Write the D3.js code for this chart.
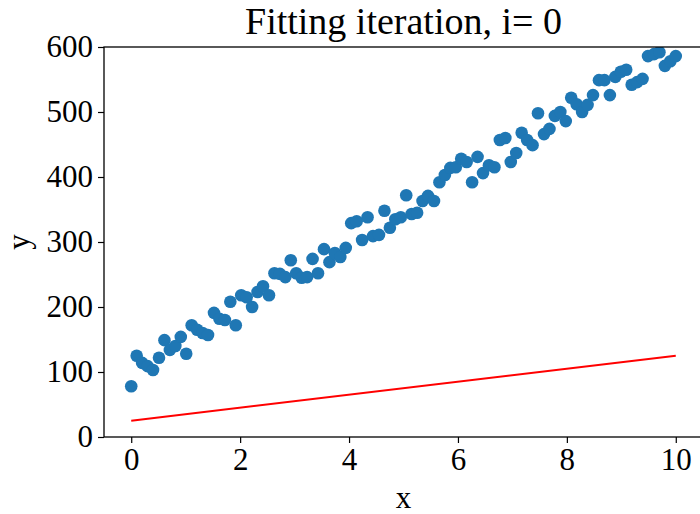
<!DOCTYPE html>
<html>
<head>
<meta charset="utf-8">
<script src="https://cdn.jsdelivr.net/npm/d3@7"></script>
<style>
  html, body { margin: 0; padding: 0; background: #fff; }
  svg { display: block; }
  text { font-family: "Liberation Serif", "DejaVu Serif", serif; fill: #000; }
</style>
</head>
<body>
<svg id="chart" width="700" height="514"></svg>
<script>
const titleText = "Fitting iteration, i= 0";
const xLabel = "x";
const yLabel = "y";
const xTicks = [0, 2, 4, 6, 8, 10];
const yTicks = [0, 100, 200, 300, 400, 500, 600];

const xValues = [
  0.00,0.10,0.20,0.30,0.40,0.51,0.61,0.71,0.81,0.91,
  1.01,1.11,1.21,1.31,1.41,1.52,1.62,1.72,1.82,1.92,
  2.02,2.12,2.22,2.32,2.42,2.53,2.63,2.73,2.83,2.93,
  3.03,3.13,3.23,3.33,3.43,3.54,3.64,3.74,3.84,3.94,
  4.04,4.14,4.24,4.34,4.44,4.55,4.65,4.75,4.85,4.95,
  5.05,5.15,5.25,5.35,5.45,5.56,5.66,5.76,5.86,5.96,
  6.06,6.16,6.26,6.36,6.46,6.57,6.67,6.77,6.87,6.97,
  7.07,7.17,7.27,7.37,7.47,7.58,7.68,7.78,7.88,7.98,
  8.08,8.18,8.28,8.38,8.48,8.59,8.69,8.79,8.89,8.99,
  9.09,9.19,9.29,9.39,9.49,9.60,9.70,9.80,9.90,10.00
];
const yValues = [
  78,125,114,109,103,122,149,134,140,154,
  128,172,165,160,157,191,182,180,208,172,
  218,215,200,223,232,218,252,251,246,272,
  252,245,246,274,252,289,269,283,277,291,
  329,332,303,338,309,311,348,322,335,338,
  372,343,345,363,371,363,392,403,414,415,
  428,423,392,431,406,418,415,457,460,423,
  437,468,457,449,498,466,474,494,500,486,
  522,512,500,511,526,549,549,526,554,562,
  565,542,546,551,586,589,592,571,578,586
];
const lineX = [0, 10];
const lineY = [25, 125];

const svg = d3.select("#chart");
const pLeft = 104, pRight = 703, pTop = 47, pBottom = 437;

const x = d3.scaleLinear().domain([-0.5, 10.5]).range([pLeft, pRight]);
const y = d3.scaleLinear().domain([0, 600]).range([pBottom, pTop]);

svg.append("defs").append("clipPath").attr("id", "clip")
  .append("rect").attr("x", pLeft).attr("y", pTop)
  .attr("width", pRight - pLeft).attr("height", pBottom - pTop);

const plot = svg.append("g").attr("clip-path", "url(#clip)");

plot.selectAll("circle.pt")
  .data(xValues.map((d, i) => [d, yValues[i]]))
  .enter().append("circle")
  .attr("class", "pt")
  .attr("cx", d => x(d[0]))
  .attr("cy", d => y(d[1]))
  .attr("r", 6.3)
  .attr("fill", "#1f77b4");

plot.append("path")
  .datum(lineX.map((d, i) => [d, lineY[i]]))
  .attr("fill", "none")
  .attr("stroke", "#ff0000")
  .attr("stroke-width", 2)
  .attr("d", d3.line().x(d => x(d[0])).y(d => y(d[1])));

svg.append("rect")
  .attr("x", pLeft).attr("y", pTop)
  .attr("width", pRight - pLeft).attr("height", pBottom - pTop)
  .attr("fill", "none").attr("stroke", "#000").attr("stroke-width", 1.3);

const xAxis = d3.axisBottom(x).tickValues(xTicks).tickSize(6).tickPadding(5).tickFormat(d3.format("d"));
const gx = svg.append("g").attr("transform", `translate(0,${pBottom})`).call(xAxis);
gx.select(".domain").remove();
gx.selectAll(".tick line").attr("stroke", "#000").attr("stroke-width", 1.2);
gx.selectAll(".tick text").style("font-family", '"Liberation Serif", serif').style("font-size", "31px").attr("fill", "#000");

const yAxis = d3.axisLeft(y).tickValues(yTicks).tickSize(6).tickPadding(5).tickFormat(d3.format("d"));
const gy = svg.append("g").attr("transform", `translate(${pLeft},0)`).call(yAxis);
gy.select(".domain").remove();
gy.selectAll(".tick line").attr("stroke", "#000").attr("stroke-width", 1.2);
gy.selectAll(".tick text").style("font-family", '"Liberation Serif", serif').style("font-size", "31px").attr("fill", "#000");

svg.append("text")
  .attr("x", (pLeft + pRight) / 2).attr("y", 34)
  .attr("text-anchor", "middle")
  .style("font-size", "38px")
  .text(titleText);

svg.append("text")
  .attr("x", (pLeft + pRight) / 2).attr("y", 508)
  .attr("text-anchor", "middle")
  .style("font-size", "31px")
  .text(xLabel);

svg.append("text")
  .attr("transform", `translate(29,${(pTop + pBottom) / 2}) rotate(-90)`)
  .attr("text-anchor", "middle")
  .style("font-size", "31px")
  .text(yLabel);
</script>
</body>
</html>
